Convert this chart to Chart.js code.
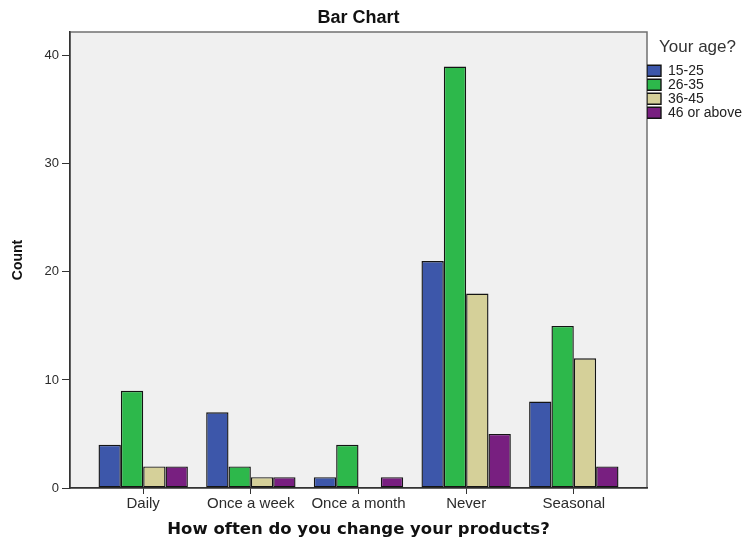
<!DOCTYPE html>
<html>
<head>
<meta charset="utf-8">
<title>Bar Chart</title>
<script src="https://cdn.jsdelivr.net/npm/chart.js@4/dist/chart.umd.min.js"></script>
<style>
  html, body { margin: 0; padding: 0; background: #fff; }
  #wrap { width: 748px; height: 540px; }
</style>
</head>
<body>
<div id="wrap"><canvas id="chart" width="748" height="540"></canvas></div>
<script>
// frequency categories on the x axis
const categories = ['Daily', 'Once a week', 'Once a month', 'Never', 'Seasonal'];

// counts per age group
const age15to25 = [4, 7, 1, 21, 8];
const age26to35 = [9, 2, 4, 39, 15];
const age36to45 = [2, 1, 0, 18, 12];
const age46plus = [2, 1, 1, 5, 2];

const yTicks = [0, 10, 20, 30, 40];

const COLORS = {
  blue: '#3d57aa',
  green: '#2db84b',
  tan: '#d5d099',
  purple: '#781f80',
  edge: '#141414',
  axis: '#333333',
  text: '#2b2b2b'
};

const toPoints = vals => vals.map((v, i) => ({ x: i, y: v }));

const series = (label, vals, color) => ({
  label,
  data: toPoints(vals),
  backgroundColor: color,
  borderColor: COLORS.edge,
  borderWidth: 1.4,
  borderSkipped: false
});

// gray plot panel with a thin frame, like the SPSS output
const plotPanel = {
  id: 'plotPanel',
  beforeDraw(chart) {
    const { ctx, chartArea: a } = chart;
    ctx.save();
    ctx.fillStyle = '#f0f0f0';
    ctx.fillRect(a.left, a.top, a.right - a.left, a.bottom - a.top);
    ctx.strokeStyle = '#707070';
    ctx.lineWidth = 1.5;
    ctx.strokeRect(a.left, a.top, a.right - a.left, a.bottom - a.top);
    ctx.restore();
  }
};

Chart.defaults.font.family = '"Liberation Sans", Arial, sans-serif';
Chart.defaults.color = COLORS.text;

new Chart(document.getElementById('chart'), {
  type: 'bar',
  data: {
    datasets: [
      series('15-25', age15to25, COLORS.blue),
      series('26-35', age26to35, COLORS.green),
      series('36-45', age36to45, COLORS.tan),
      series('46 or above', age46plus, COLORS.purple)
    ]
  },
  options: {
    responsive: false,
    animation: false,
    categoryPercentage: 0.83,
    barPercentage: 1,
    layout: { padding: { left: 0, right: 0, top: 0, bottom: 0 } },
    plugins: {
      title: {
        display: true,
        text: 'Bar Chart',
        fullSize: false,
        color: '#111',
        font: { size: 18, weight: 'bold' },
        padding: { top: 7.5, bottom: 2.9 }
      },
      legend: {
        position: 'right',
        align: 'start',
        fullSize: false,
        maxWidth: 101,
        title: {
          display: true,
          text: 'Your age?',
          position: 'center',
          color: '#333',
          font: { size: 17 },
          padding: { top: 6.5, bottom: 4.8 }
        },
        labels: {
          boxWidth: 14,
          boxHeight: 11,
          padding: 0,
          color: '#222',
          font: { size: 14 }
        }
      },
      tooltip: { enabled: false }
    },
    scales: {
      x: {
        type: 'linear',
        min: -0.68,
        max: 4.68,
        offset: false,
        afterBuildTicks: s => { s.ticks = categories.map((_, i) => ({ value: i })); },
        afterFit: s => { s.height = 52; },
        grid: { offset: false, drawOnChartArea: false, drawTicks: true, tickLength: 6, color: COLORS.axis },
        border: { display: true, color: COLORS.axis, width: 1.5 },
        ticks: {
          autoSkip: false,
          maxRotation: 0,
          padding: 1,
          color: COLORS.text,
          font: { size: 15 },
          callback: v => categories[v] ?? ''
        },
        title: {
          display: true,
          text: 'How often do you change your products?',
          color: '#111',
          font: { family: '"DejaVu Sans", Verdana, sans-serif', size: 16.5, weight: 'bold' },
          padding: { top: 0, bottom: 0 }
        }
      },
      y: {
        min: 0,
        max: 42.2,
        afterBuildTicks: s => { s.ticks = yTicks.map(v => ({ value: v })); },
        afterFit: s => { s.width = 70; },
        grid: { drawOnChartArea: false, drawTicks: true, tickLength: 8, color: COLORS.axis },
        border: { display: true, color: COLORS.axis, width: 1.5 },
        ticks: { padding: 3, color: COLORS.text, font: { size: 13 } },
        title: {
          display: true,
          text: 'Count',
          color: '#111',
          font: { size: 14, weight: 'bold' },
          padding: { top: 9.6, bottom: 0 }
        }
      }
    }
  },
  plugins: [plotPanel]
});
</script>
</body>
</html>
